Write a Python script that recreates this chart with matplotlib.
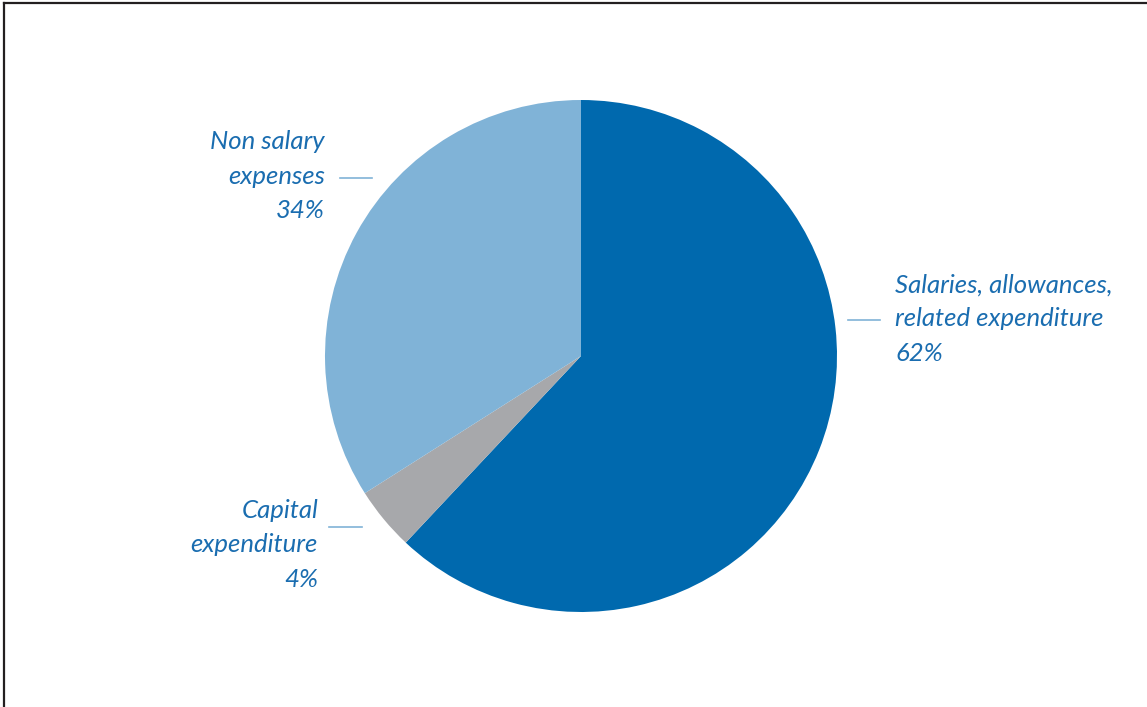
import matplotlib.pyplot as plt
from matplotlib.lines import Line2D

categories = ["Salaries, allowances,\nrelated expenditure", "Capital\nexpenditure", "Non salary\nexpenses"]
shares = [62, 4, 34]
colors = ["#0069AE", "#A7A8AB", "#80B3D7"]

W, H = 1147, 707
fig = plt.figure(figsize=(W / 100, H / 100), dpi=100)
ax = fig.add_axes([0, 0, 1, 1])

cx, cy, r = 581, H - 356, 256
ax.pie(shares, colors=colors, startangle=90, counterclock=False,
       center=(cx, cy), radius=r, frame=True,
       wedgeprops=dict(linewidth=0))
ax.set_xlim(0, W)
ax.set_ylim(0, H)
ax.set_aspect("equal")
ax.axis("off")

# label layout: (text x, text y, ha, leader x0, x1, leader y)
layout = [
    (895, H - 319, "left", 848, 880, H - 320),
    (318, H - 545, "right", 329, 362, H - 527),
    (325, H - 176, "right", 340, 372, H - 178),
]
txt_color = "#1A6DB0"
for name, val, (tx, ty, ha, lx0, lx1, ly) in zip(categories, shares, layout):
    ax.text(tx, ty, f"{name}\n{val}%", ha=ha, va="center", color=txt_color,
            fontsize=18.5, style="italic", family="Lato", linespacing=1.6)
    ax.plot([lx0, lx1], [ly, ly], color="#80B3D7", lw=1.2)

# frame lines at top and left
fig.add_artist(Line2D([4 / W, 1], [1 - 3 / H, 1 - 3 / H], color="#231F20", lw=1.6))
fig.add_artist(Line2D([4 / W, 4 / W], [0, 1 - 3 / H], color="#231F20", lw=1.6))

fig.savefig("out.png", dpi=100)
